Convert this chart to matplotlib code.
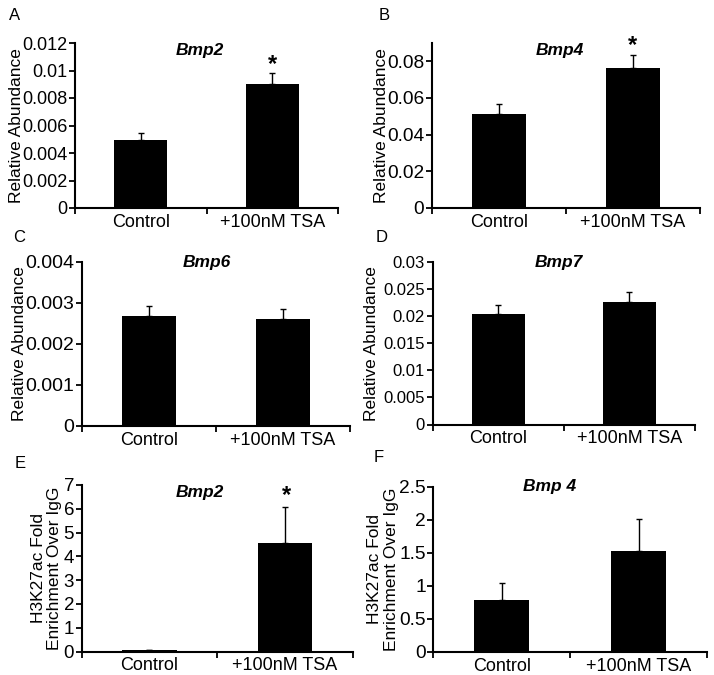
import matplotlib
matplotlib.use("Agg")
import matplotlib.pyplot as plt
from matplotlib.ticker import FixedLocator, FuncFormatter

plt.rcParams['font.family'] = ['Liberation Sans', 'DejaVu Sans']

categories = ["Control", "+100nM TSA"]

bmp2_expr = [0.00498, 0.00902]
bmp2_expr_err = [0.00050, 0.00082]
bmp4_expr = [0.0514, 0.0763]
bmp4_expr_err = [0.0056, 0.0073]
bmp6_expr = [0.00267, 0.00260]
bmp6_expr_err = [0.00025, 0.00025]
bmp7_expr = [0.0204, 0.0226]
bmp7_expr_err = [0.0016, 0.0019]
bmp2_chip = [0.08, 4.58]
bmp2_chip_err = [0.0, 1.50]
bmp4_chip = [0.79, 1.53]
bmp4_chip_err = [0.25, 0.48]

W, H = 714, 675
fig = plt.figure(figsize=(W / 100, H / 100), dpi=100)


def add_ax(x0, x1, y0, y1):
    return fig.add_axes([x0 / W, 1 - y1 / H, (x1 - x0) / W, (y1 - y0) / H])


def fmt(v, pos):
    return f"{v:.4f}".rstrip('0').rstrip('.')


panels = [
    dict(letter="A", box=(75, 338, 43, 208), vals=bmp2_expr, errs=bmp2_expr_err,
         ylim=0.012, ystep=0.002, ytop=0.012, title="Bmp2", ylabel="Relative Abundance",
         lx=-0.222, star=True, lpos=(15, 16), tpos=(200, 50), spos=(272, 65), yfs=13),
    dict(letter="B", box=(432, 700, 43, 208), vals=bmp4_expr, errs=bmp4_expr_err,
         ylim=0.09, ystep=0.02, ytop=0.08, title="Bmp4", ylabel="Relative Abundance",
         lx=-0.187, star=True, lpos=(384, 16), tpos=(560, 50), spos=(633, 46), yfs=13.8),
    dict(letter="C", box=(81.7, 350, 261.7, 426), vals=bmp6_expr, errs=bmp6_expr_err,
         ylim=0.004, ystep=0.001, ytop=0.004, title="Bmp6", ylabel="Relative Abundance",
         lx=-0.232, star=False, lpos=(19, 238), tpos=(207, 263), spos=None, yfs=14),
    dict(letter="D", box=(432.7, 695, 261.7, 424.5), vals=bmp7_expr, errs=bmp7_expr_err,
         ylim=0.03, ystep=0.005, ytop=0.03, title="Bmp7", ylabel="Relative Abundance",
         lx=-0.234, star=False, lpos=(382, 238), tpos=(559, 263), spos=None, yfs=12),
    dict(letter="E", box=(81.7, 352.7, 485, 651.5), vals=bmp2_chip, errs=bmp2_chip_err,
         ylim=7, ystep=1, ytop=7, title="Bmp2", ylabel="H3K27ac Fold\nEnrichment Over IgG",
         lx=-0.13, star=True, lpos=(20, 463), tpos=(200, 493), spos=(287, 496), yfs=13.5),
    dict(letter="F", box=(433.3, 707, 486.7, 652), vals=bmp4_chip, errs=bmp4_chip_err,
         ylim=2.5, ystep=0.5, ytop=2.5, title="Bmp 4", ylabel="H3K27ac Fold\nEnrichment Over IgG",
         lx=-0.184, star=False, lpos=(379, 458), tpos=(550, 487), spos=None, yfs=13.8),
]

for p in panels:
    x0, x1, y0, y1 = p["box"]
    ax = add_ax(x0, x1, y0, y1)
    xs = [0.5, 1.5]
    ax.bar(xs, p["vals"], width=0.4, color="black", zorder=2)
    ax.errorbar(xs, p["vals"], yerr=[[0, 0], p["errs"]], fmt="none", ecolor="black",
                elinewidth=1.0, capsize=2.5, capthick=1.0, zorder=3)
    ax.set_xlim(0, 2)
    ax.set_ylim(0, p["ylim"])
    n = int(round(p["ytop"] / p["ystep"]))
    ax.yaxis.set_major_locator(FixedLocator([i * p["ystep"] for i in range(n + 1)]))
    ax.yaxis.set_major_formatter(FuncFormatter(fmt))
    ax.set_xticks(xs)
    ax.set_xticklabels(categories)
    ax.xaxis.set_minor_locator(FixedLocator([0, 1, 2]))
    ax.tick_params(axis="x", which="major", length=0, pad=4, labelsize=13)
    ax.tick_params(axis="x", which="minor", length=4, width=1.3, direction="out")
    ax.tick_params(axis="y", which="major", length=4, width=1.3, direction="out",
                   labelsize=p["yfs"], pad=1.5)
    for s in ("top", "right"):
        ax.spines[s].set_visible(False)
    for s in ("left", "bottom"):
        ax.spines[s].set_linewidth(1.5)
    ax.set_ylabel(p["ylabel"], fontsize=12.5, linespacing=1.15)
    ax.yaxis.set_label_coords(p["lx"], 0.5)
    ax.yaxis.label.set_verticalalignment("center")
    fig.text(p["tpos"][0] / W, 1 - p["tpos"][1] / H, p["title"], fontsize=12.5,
             fontweight="bold", fontstyle="italic", ha="center", va="center")
    fig.text(p["lpos"][0] / W, 1 - p["lpos"][1] / H, p["letter"], fontsize=12,
             ha="center", va="center")
    if p["star"]:
        fig.text(p["spos"][0] / W, 1 - p["spos"][1] / H, "*", fontsize=17,
                 fontweight="bold", ha="center", va="center")

fig.savefig("out.png", dpi=100)
